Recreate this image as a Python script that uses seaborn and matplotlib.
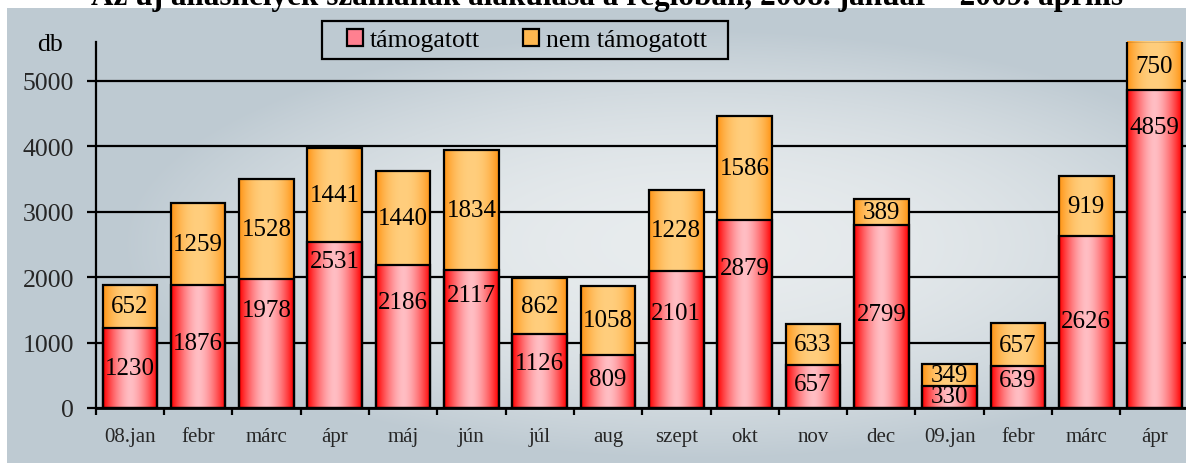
import numpy as np
import pandas as pd
import matplotlib
matplotlib.use("Agg")
import matplotlib.pyplot as plt
import seaborn as sns
from matplotlib.patches import Patch, Rectangle

months = ["08.jan", "febr", "márc", "ápr", "máj", "jún", "júl", "aug",
          "szept", "okt", "nov", "dec", "09.jan", "febr", "márc", "ápr"]
tamogatott = [1230, 1876, 1978, 2531, 2186, 2117, 1126, 809,
              2101, 2879, 657, 2799, 330, 639, 2626, 4859]
nem_tamogatott = [652, 1259, 1528, 1441, 1440, 1834, 862, 1058,
                  1228, 1586, 633, 389, 349, 657, 919, 750]
# where the "támogatott" labels sit in the original (not always mid-bar)
tam_label_at = [612, 994, 1500, 2240, 1622, 1727, 688, 443,
                1445, 2142, 367, 1430, 183, 428, 1330, 4292]
yticks = [0, 1000, 2000, 3000, 4000, 5000]
title = "Az új álláshelyek számának alakulása a régióban, 2008. január – 2009. április"

df = pd.DataFrame({"idx": range(len(months)), "month": months,
                   "tam": tamogatott, "nem": nem_tamogatott})
df["total"] = df["tam"] + df["nem"]

sns.set_style("ticks")
plt.rcParams["font.family"] = ["Liberation Serif", "DejaVu Serif"]
plt.rcParams["text.color"] = "black"

W, H = 1186, 464
fig = plt.figure(figsize=(W / 100, H / 100), dpi=100, facecolor="white")

# background gradient of the chart area
bg = fig.add_axes([7 / W, 0, 1 - 7 / W, (H - 9) / H])
yy, xx = np.mgrid[9:H, 7:W]
d2 = ((xx - 700) / 580.0) ** 2 + ((yy - 245) / 215.0) ** 2
wgt = np.clip(1 - d2, 0, 1)[..., None]
dark = np.array([190, 202, 210]) / 255
light = np.array([232, 236, 238]) / 255
bg.imshow(dark * (1 - wgt) + light * wgt, aspect="auto", interpolation="bilinear")
bg.set_axis_off()
bg.set_zorder(0)

ax = fig.add_axes([95.7 / W, (H - 409) / H, 1093 / W, 366.3 / H])
ax.set_zorder(1)
ax.patch.set_alpha(0)

sns.barplot(data=df, x="idx", y="total", color="#ffb040", saturation=1,
            width=0.8, edgecolor="black", linewidth=1.6, ax=ax, zorder=3)
sns.barplot(data=df, x="idx", y="tam", color="#ff6070", saturation=1,
            width=0.8, edgecolor="black", linewidth=1.6, ax=ax, zorder=3)


def gradient(edge, center, power, n=80):
    t = np.linspace(0, 1, n)
    w = 1 - np.abs(2 * t - 1) ** power
    edge = np.array(edge) / 255
    center = np.array(center) / 255
    return (edge[None, :] * (1 - w[:, None]) + center[None, :] * w[:, None])[None, :, :]


grad_nem = gradient((255, 148, 20), (255, 206, 125), 2.2)
grad_tam = gradient((255, 0, 0), (255, 190, 196), 1.6)

n = len(months)
for i, p in enumerate(ax.patches):
    x0, y0, bw, bh = p.get_x(), p.get_y(), p.get_width(), p.get_height()
    g = grad_nem if i < n else grad_tam
    im = ax.imshow(g, extent=[x0, x0 + bw, y0, y0 + bh], aspect="auto",
                   interpolation="bilinear", zorder=2 if i < n else 2.5)
    im.set_clip_path(p)
    p.set_facecolor("none")
    p.set_zorder(3)

# value labels
for i in range(n):
    ax.text(i, tam_label_at[i], str(tamogatott[i]), ha="center", va="center",
            fontsize=18, zorder=4)
    ax.text(i, tamogatott[i] + nem_tamogatott[i] / 2, str(nem_tamogatott[i]),
            ha="center", va="center", fontsize=18, zorder=4)

ax.set_xlim(-0.5, n - 0.5)
ax.set_ylim(0, 5600)
ax.set_yticks(yticks)
ax.set_yticklabels([str(v) for v in yticks], fontsize=18.5)
ax.set_xticks(range(n))
ax.set_xticklabels(months, fontsize=15)
ax.set_xticks(np.arange(-0.5, n, 1.0), minor=True)
ax.tick_params(axis="x", which="major", length=0, pad=13.5)
ax.tick_params(axis="x", which="minor", length=5, width=1.6, color="black")
ax.tick_params(axis="y", length=6.5, width=1.6, color="black", pad=9)
ax.yaxis.grid(True, color="black", linewidth=1.6)
ax.set_axisbelow(True)
ax.set_xlabel("")
ax.set_ylabel("")
for s in ["top", "right"]:
    ax.spines[s].set_visible(False)
ax.spines["left"].set_linewidth(1.6)
ax.spines["bottom"].set_linewidth(2)
ax.spines["left"].set_color("black")
ax.spines["bottom"].set_color("black")

fig.text(50 / W, 1 - 45 / H, "db", ha="center", va="center", fontsize=18.5)
fig.text(607 / W, 1 - 5.5 / H, title, ha="center", va="baseline",
         fontsize=22.5, fontweight="bold")

# legend box (frame drawn separately to get the wide Excel-like box)
fig.patches.append(Rectangle((322 / W, 1 - 60 / H), 406 / W, 38 / H,
                             transform=fig.transFigure, facecolor="none",
                             edgecolor="black", linewidth=1.6, zorder=5))
handles = [Patch(facecolor="#ff8090", edgecolor="black", linewidth=1.6, label="támogatott"),
           Patch(facecolor="#ffb850", edgecolor="black", linewidth=1.6, label="nem támogatott")]
leg = fig.legend(handles=handles, loc="center", bbox_to_anchor=(527 / W, 1 - 41 / H),
                 ncol=2, fontsize=18.5, frameon=False, handlelength=0.62,
                 handleheight=0.66, handletextpad=0.3, columnspacing=1.65,
                 borderpad=0.3)
leg.set_zorder(5)

fig.savefig("out.png", dpi=100, facecolor="white")
